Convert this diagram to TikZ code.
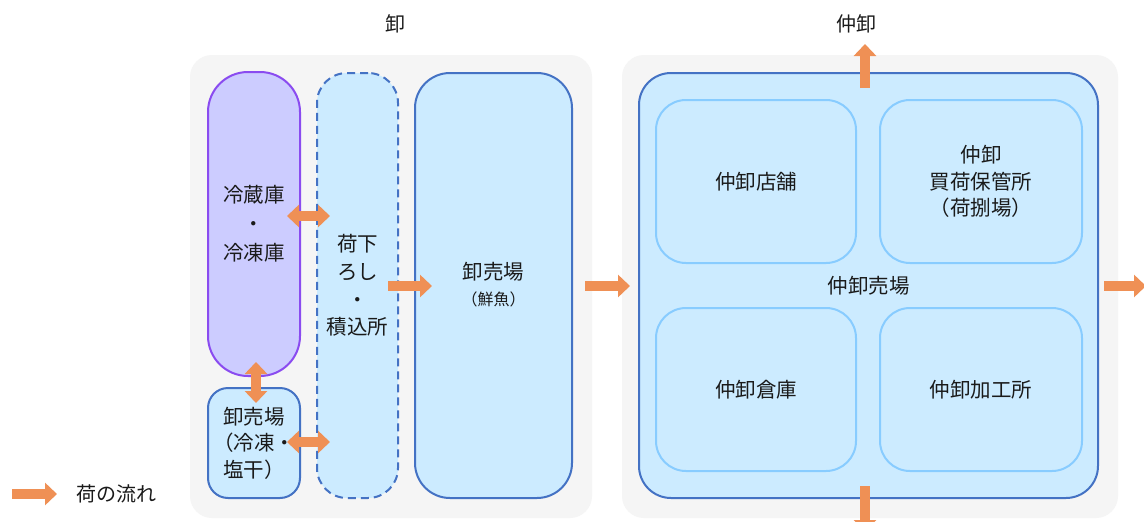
\documentclass[tikz,border=0pt]{standalone}
\usepackage{fontspec}
\setmainfont{Noto Sans CJK JP}
\usetikzlibrary{arrows.meta}
\definecolor{bggray}{HTML}{F5F5F5}
\definecolor{boxfill}{HTML}{CCEBFF}
\definecolor{boxline}{HTML}{4472C4}
\definecolor{innerline}{HTML}{88CCFF}
\definecolor{purplefill}{HTML}{CCCCFF}
\definecolor{purpleline}{HTML}{8A4BF0}
\definecolor{flow}{HTML}{EF9055}
\definecolor{txt}{HTML}{1A1A1A}
\tikzset{
  bggroup/.style={fill=bggray, draw=none, rounded corners=22pt},
  area/.style={draw=boxline, fill=boxfill, line width=2pt, inner sep=0pt, align=center, text=txt,
     font=\fontsize{20.5}{28}\selectfont},
  inner/.style={draw=innerline, fill=boxfill, line width=2pt, rounded corners=30pt, inner sep=0pt,
     minimum width=200pt, minimum height=163pt, align=center, text=txt, font=\fontsize{20.5}{27}\selectfont},
  flowone/.style={draw=flow, line width=10pt, -{Triangle[width=22pt,length=12pt]}},
  flowtwo/.style={draw=flow, line width=10pt, {Triangle[width=22pt,length=12pt]}-{Triangle[width=22pt,length=12pt]}},
  title/.style={text=txt, font=\fontsize{20}{24}\selectfont}
}
\begin{document}
\begin{tikzpicture}[x=1pt,y=-1pt]
\useasboundingbox (0,0) rectangle (1144,522);
\fill[white] (0,0) rectangle (1144,522);
% group backgrounds
\node[bggroup, minimum width=402pt, minimum height=463pt, inner sep=0pt] (bgL) at (391,286.5) {};
\node[bggroup, minimum width=496pt, minimum height=463pt, inner sep=0pt] (bgR) at (870,286.5) {};
\node[title] (tL) at (395,24) {卸};
\node[title] (tR) at (856,24) {仲卸};
% left group
\node[area, draw=purpleline, fill=purplefill, rounded corners=40pt, minimum width=92pt, minimum height=304pt,
      font=\fontsize{20.5}{29}\selectfont] (reizo) at (254,224) {冷蔵庫\\・\\冷凍庫};
\node[area, rounded corners=20pt, minimum width=92pt, minimum height=110pt,
      font=\fontsize{20.5}{26.5}\selectfont] (oroF) at (254,443) {卸売場\\（冷凍・\\塩干）};
\node[area, dashed, dash pattern=on 8pt off 5pt, rounded corners=30pt, minimum width=81pt, minimum height=425pt,
      font=\fontsize{20.5}{27.7}\selectfont] (niage) at (357.5,285.5) {荷下\\ろし\\・\\積込所};
\node[area, rounded corners=35pt, minimum width=157pt, minimum height=425pt] (oroS) at (493.5,285.5) {};
\node[text=txt, font=\fontsize{20.5}{24}\selectfont] (oroSt) at (493.5,272) {卸売場};
\node[text=txt, font=\fontsize{16}{20}\selectfont] (oroSs) at (493.5,299) {（鮮魚）};
% right group
\node[area, rounded corners=32pt, minimum width=459pt, minimum height=425pt] (naka) at (868.5,285.5) {仲卸売場};
\node[inner] (ten) at (756,181.5) {仲卸店舗};
\node[inner, minimum width=202pt, font=\fontsize{20.5}{26.5}\selectfont] (kai) at (981,181.5) {仲卸\\買荷保管所\\（荷捌場）};
\node[inner] (souko) at (756,389.5) {仲卸倉庫};
\node[inner, minimum width=202pt] (kakou) at (981,389.5) {仲卸加工所};
% flow arrows
\coordinate (a1s) at (287,216); \coordinate (a1e) at (330,216);
\coordinate (a2s) at (256,362); \coordinate (a2e) at (256,403);
\coordinate (a3s) at (287,442); \coordinate (a3e) at (330,442);
\coordinate (a4s) at (388,286); \coordinate (a4e) at (432,286);
\coordinate (a5s) at (585,286); \coordinate (a5e) at (630,286);
\coordinate (a6s) at (865,88);  \coordinate (a6e) at (865,44);
\coordinate (a7s) at (1104,286); \coordinate (a7e) at (1146,286);
\coordinate (a8s) at (865,486); \coordinate (a8e) at (865,532);
\draw[flowtwo] (a1s) -- (a1e);
\draw[flowtwo] (a2s) -- (a2e);
\draw[flowtwo] (a3s) -- (a3e);
\draw[flowone] (a4s) -- (a4e);
\draw[flowone] (a5s) -- (a5e);
\draw[flowone] (a6s) -- (a6e);
\draw[flowone] (a7s) -- (a7e);
\draw[flowone] (a8s) -- (a8e);
% legend
\coordinate (ls) at (12,494); \coordinate (le) at (57,494);
\draw[flowone] (ls) -- (le);
\node[text=txt, font=\fontsize{20}{24}\selectfont, anchor=west] (leg) at (73,494) {荷の流れ};
\end{tikzpicture}
\end{document}
